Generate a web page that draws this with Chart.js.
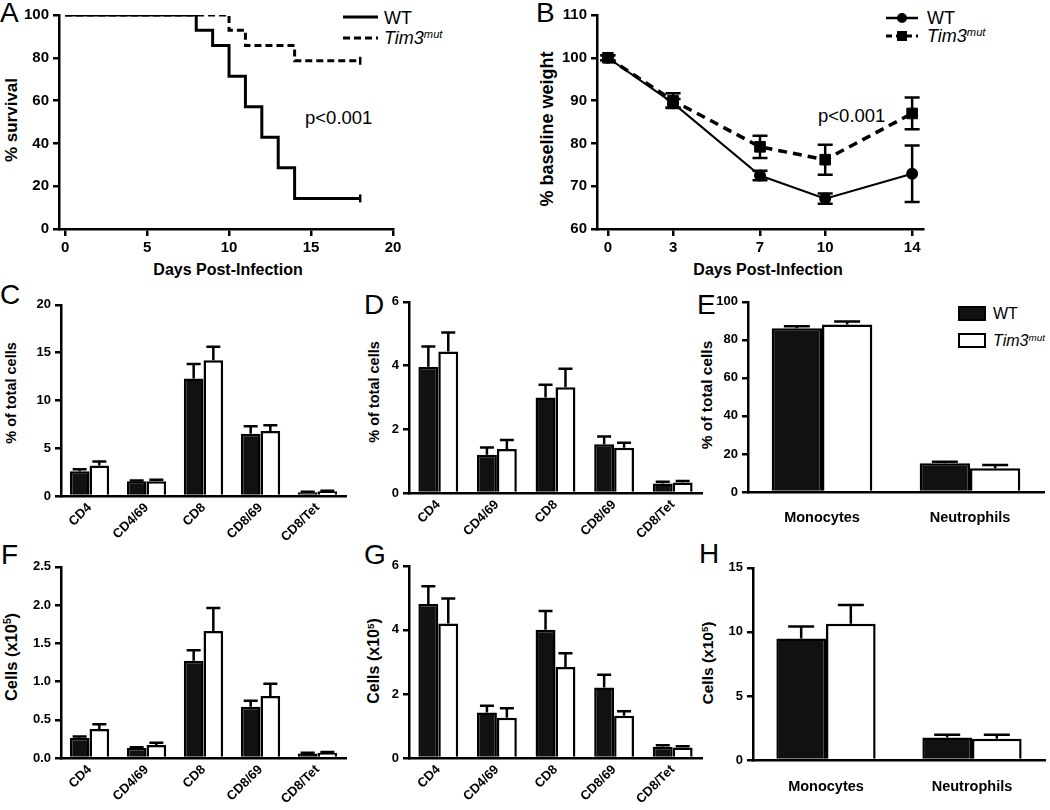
<!DOCTYPE html>
<html>
<head>
<meta charset="utf-8">
<script src="https://cdn.jsdelivr.net/npm/chart.js@4.4.1/dist/chart.umd.min.js"></script>
<style>
  html, body { margin: 0; padding: 0; background: #fff; }
  body { width: 1050px; height: 810px; position: relative; overflow: hidden; font-family: 'Liberation Sans', Arial, sans-serif; color: #000; }
  canvas { position: absolute; }
  .t { position: absolute; white-space: nowrap; line-height: 1; }
  .letter { font-size: 28px; }
  .yt { transform: translate(-50%, -50%) rotate(-90deg); font-weight: bold; }
  .xt { transform: translate(-50%, -50%); font-weight: bold; }
  .sup { font-size: 0.62em; position: relative; top: -0.55em; }
  .mid { transform: translateY(-50%); }
</style>
</head>
<body>

<!-- panel letters -->
<div class="t letter" style="left:0px;top:-1px">A</div>
<div class="t letter" style="left:536px;top:-1px">B</div>
<div class="t letter" style="left:0px;top:281px">C</div>
<div class="t letter" style="left:364px;top:291px">D</div>
<div class="t letter" style="left:697px;top:291px">E</div>
<div class="t letter" style="left:1px;top:541px">F</div>
<div class="t letter" style="left:364px;top:541px">G</div>
<div class="t letter" style="left:699px;top:540px">H</div>

<!-- axis titles -->
<div class="t yt" style="left:11px;top:120px;font-size:17px">% survival</div>
<div class="t xt" style="left:228px;top:270px;font-size:16px">Days Post-Infection</div>
<div class="t yt" style="left:547px;top:129px;font-size:18px">% baseline weight</div>
<div class="t xt" style="left:768px;top:270px;font-size:16px">Days Post-Infection</div>
<div class="t yt" style="left:11px;top:393px;font-size:14.5px">% of total cells</div>
<div class="t yt" style="left:374px;top:392px;font-size:14.5px">% of total cells</div>
<div class="t yt" style="left:707px;top:395px;font-size:15.5px">% of total cells</div>
<div class="t yt" style="left:11px;top:657px;font-size:16.5px">Cells (x10<span class="sup">5</span>)</div>
<div class="t yt" style="left:374px;top:661px;font-size:16px">Cells (x10<span class="sup">5</span>)</div>
<div class="t yt" style="left:708px;top:663px;font-size:15.5px">Cells (x10<span class="sup">5</span>)</div>

<!-- p values -->
<div class="t mid" style="left:305px;top:118px;font-size:18.5px">p&lt;0.001</div>
<div class="t mid" style="left:818px;top:116px;font-size:18.5px">p&lt;0.001</div>

<!-- legend A -->
<svg style="position:absolute;left:343px;top:10px" width="36" height="14"><line x1="0" y1="7" x2="35" y2="7" stroke="#000" stroke-width="3"/></svg>
<svg style="position:absolute;left:343px;top:31px" width="36" height="14"><line x1="0" y1="7" x2="35" y2="7" stroke="#000" stroke-width="3" stroke-dasharray="7,4"/></svg>
<div class="t mid" style="left:384px;top:18px;font-size:18px">WT</div>
<div class="t mid" style="left:384px;top:38px;font-size:18px"><i>Tim3</i><i class="sup">mut</i></div>

<!-- legend B -->
<svg style="position:absolute;left:886px;top:9px" width="34" height="18"><line x1="0" y1="9" x2="32" y2="9" stroke="#000" stroke-width="2.5"/><circle cx="16" cy="9" r="5" fill="#000"/></svg>
<svg style="position:absolute;left:886px;top:27px" width="34" height="18"><line x1="0" y1="9" x2="32" y2="9" stroke="#000" stroke-width="3" stroke-dasharray="6,4"/><rect x="11" y="4" width="10" height="10" fill="#000"/></svg>
<div class="t mid" style="left:927px;top:18px;font-size:18px">WT</div>
<div class="t mid" style="left:927px;top:36px;font-size:18px"><i>Tim3</i><i class="sup">mut</i></div>

<!-- legend E -->
<div style="position:absolute;left:958px;top:306px;width:24px;height:11px;background:#111;border:2px solid #000"></div>
<div style="position:absolute;left:958px;top:333px;width:24px;height:11px;background:#fff;border:2px solid #000"></div>
<div class="t mid" style="left:993px;top:314px;font-size:16px">WT</div>
<div class="t mid" style="left:993px;top:341px;font-size:16px"><i>Tim3</i><i class="sup">mut</i></div>

<script>
// ---- data ----
// A: Kaplan-Meier survival
const survDaysWT = [0, 8, 9, 10, 11, 12, 13, 14, 18];
const survWT     = [100, 92.9, 85.7, 71.4, 57.1, 42.9, 28.6, 14.3, 14.3];
const survDaysMut = [0, 10, 11, 14, 18];
const survMut     = [100, 92.9, 85.7, 78.6, 78.6];
const survTicks = [0, 5, 10, 15, 20];

// B: weight
const weightDays   = [0, 3, 7, 10, 14];
const weightWT     = [100, 89.4, 72.5, 67.1, 72.9];
const weightWTErr  = [0.6, 1.0, 1.1, 1.2, 6.6];
const weightMut    = [100, 90.0, 79.2, 76.2, 87.0];
const weightMutErr = [0.6, 1.7, 2.6, 3.5, 3.7];

const tcellCats   = ["CD4", "CD4/69", "CD8", "CD8/69", "CD8/Tet"];
const myeloidCats = ["Monocytes", "Neutrophils"];

// C: % of total cells
const pctC_WT     = [2.6, 1.55, 12.3, 6.5, 0.4];
const pctC_WTErr  = [0.2, 0.07, 1.5, 0.8, 0.05];
const pctC_Mut    = [3.2, 1.55, 14.2, 6.8, 0.5];
const pctC_MutErr = [0.4, 0.15, 1.4, 0.6, 0.05];

// D: % of total cells
const pctD_WT     = [3.96, 1.2, 3.0, 1.53, 0.3];
const pctD_WTErr  = [0.64, 0.23, 0.4, 0.24, 0.05];
const pctD_Mut    = [4.44, 1.38, 3.32, 1.42, 0.33];
const pctD_MutErr = [0.6, 0.28, 0.58, 0.16, 0.05];

// E: % of total cells (myeloid)
const pctE_WT     = [86.1, 15.1];
const pctE_WTErr  = [1.1, 0.8];
const pctE_Mut    = [88.0, 12.5];
const pctE_MutErr = [1.6, 1.7];

// F: cells x10^5
const cellsF_WT     = [0.26, 0.13, 1.27, 0.67, 0.06];
const cellsF_WTErr  = [0.02, 0.01, 0.14, 0.08, 0.01];
const cellsF_Mut    = [0.38, 0.17, 1.66, 0.81, 0.07];
const cellsF_MutErr = [0.06, 0.03, 0.30, 0.16, 0.01];

// G: cells x10^5
const cellsG_WT     = [4.81, 1.42, 4.0, 2.2, 0.35];
const cellsG_WTErr  = [0.55, 0.21, 0.59, 0.4, 0.05];
const cellsG_Mut    = [4.2, 1.26, 2.84, 1.32, 0.33];
const cellsG_MutErr = [0.78, 0.29, 0.43, 0.14, 0.04];

// H: cells x10^5 (myeloid)
const cellsH_WT     = [9.48, 1.75];
const cellsH_WTErr  = [0.93, 0.23];
const cellsH_Mut    = [10.64, 1.65];
const cellsH_MutErr = [1.45, 0.33];

// ---- chart setup ----
Chart.defaults.font.family = "'Liberation Sans', Arial, sans-serif";
Chart.defaults.color = "#000";
Chart.defaults.animation = false;

const Y_W = 52, PAD_T = 10;

// error bars (mean + SEM), up-only for bars, both ways for the weight curves
const errorBars = {
  id: "errorBars",
  afterDatasetsDraw(chart, args, opts){
    const ctx = chart.ctx;
    const ys = chart.scales.y;
    chart.data.datasets.forEach((ds, i) => {
      if (!ds.errors) return;
      const meta = chart.getDatasetMeta(i);
      ctx.save();
      ctx.strokeStyle = "#000";
      ctx.lineWidth = opts.lineWidth || 2.5;
      ctx.setLineDash([]);
      meta.data.forEach((el, j) => {
        const raw = ds.data[j];
        const v = (typeof raw === "object") ? raw.y : raw;
        const e = ds.errors[j];
        const hi = ys.getPixelForValue(v + e);
        const lo = opts.both ? ys.getPixelForValue(v - e) : el.y;
        const h = opts.cap / 2;
        ctx.beginPath();
        ctx.moveTo(el.x, lo); ctx.lineTo(el.x, hi);
        ctx.moveTo(el.x - h, hi); ctx.lineTo(el.x + h, hi);
        if (opts.both){ ctx.moveTo(el.x - h, lo); ctx.lineTo(el.x + h, lo); }
        ctx.stroke();
      });
      ctx.restore();
    });
  }
};

function makeCanvas(area, xh, padR){
  const c = document.createElement("canvas");
  const w = Y_W + (area.x1 - area.x0) + padR;
  const h = PAD_T + (area.y1 - area.y0) + xh;
  c.width = w; c.height = h;
  c.style.left = (area.x0 - Y_W) + "px";
  c.style.top = (area.y0 - PAD_T) + "px";
  c.style.width = w + "px"; c.style.height = h + "px";
  document.body.appendChild(c);
  return c;
}

function yAxis(min, max, step, size, fmt){
  return {
    min, max,
    ticks: { stepSize: step, font: { size, weight: "bold" }, color: "#000", padding: 4,
             callback: fmt || (v => v) },
    grid: { display: true, drawOnChartArea: false, drawTicks: true, tickLength: 6, color: "#000", lineWidth: 2.5 },
    border: { display: true, color: "#000", width: 2.5 },
    afterFit: s => { s.width = Y_W; }
  };
}

function catAxis(size, rot, pad, xh){
  return {
    type: "category", offset: true,
    ticks: { font: { size, weight: "bold" }, color: "#000", minRotation: rot, maxRotation: rot, autoSkip: false, padding: pad },
    grid: { display: false },
    border: { display: true, color: "#000", width: 2.5 },
    afterFit: s => { s.height = xh; }
  };
}

function baseOptions(padR){
  return {
    responsive: false, animation: false, devicePixelRatio: 1,
    layout: { padding: { top: PAD_T, right: padR, bottom: 0, left: 0 } },
    plugins: { legend: { display: false }, tooltip: { enabled: false } }
  };
}

function barPanel(area, xh, padR, cats, wt, wtErr, mut, mutErr, yCfg, xCfg, cap, catPct){
  const c = makeCanvas(area, xh, padR);
  const opts = baseOptions(padR);
  opts.scales = { x: xCfg, y: yCfg };
  opts.plugins.errorBars = { cap, lineWidth: 2.5, both: false };
  new Chart(c, {
    type: "bar",
    data: {
      labels: cats,
      datasets: [
        { label: "WT", data: wt, errors: wtErr, backgroundColor: "#111", borderColor: "#000", borderWidth: 2.5,
          categoryPercentage: catPct, barPercentage: 1 },
        { label: "Tim3mut", data: mut, errors: mutErr, backgroundColor: "#fff", borderColor: "#000", borderWidth: 2.5,
          categoryPercentage: catPct, barPercentage: 1 }
      ]
    },
    options: opts,
    plugins: [errorBars]
  });
}

// ---- A: survival ----
(function(){
  const area = { x0: 59, x1: 393, y0: 12, y1: 229 };
  const padR = 14, xh = 35;
  const c = makeCanvas(area, xh, padR);
  const opts = baseOptions(padR);
  const lastOnly = n => Array.from({ length: n }, (_, i) => i === n - 1 ? 4 : 0);
  opts.scales = {
    x: {
      type: "linear", bounds: "data", min: -0.37, max: 20,
      afterBuildTicks: s => { s.ticks = survTicks.map(v => ({ value: v })); },
      ticks: { font: { size: 15, weight: "bold" }, color: "#000", padding: 3 },
      grid: { display: true, drawOnChartArea: false, drawTicks: true, tickLength: 7, color: "#000", lineWidth: 2.5 },
      border: { display: true, color: "#000", width: 2.5 },
      afterFit: s => { s.height = xh; }
    },
    y: yAxis(0, 100, 20, 15)
  };
  new Chart(c, {
    type: "line",
    data: {
      datasets: [
        { label: "WT", data: survDaysWT.map((d, i) => ({ x: d, y: survWT[i] })), stepped: true,
          borderColor: "#000", borderWidth: 3, pointStyle: "line", rotation: 90,
          pointRadius: lastOnly(survDaysWT.length), pointBorderWidth: 2.5, pointBorderColor: "#000" },
        { label: "Tim3mut", data: survDaysMut.map((d, i) => ({ x: d, y: survMut[i] })), stepped: true,
          borderColor: "#000", borderWidth: 3, borderDash: [7, 4], pointStyle: "line", rotation: 90,
          pointRadius: lastOnly(survDaysMut.length), pointBorderWidth: 2.5, pointBorderColor: "#000" }
      ]
    },
    options: opts
  });
})();

// ---- B: weight ----
(function(){
  const area = { x0: 597, x1: 923, y0: 12, y1: 229 };
  const padR = 14, xh = 35;
  const c = makeCanvas(area, xh, padR);
  const opts = baseOptions(padR);
  opts.scales = {
    x: {
      type: "linear", bounds: "data", min: -0.5, max: 14.5,
      afterBuildTicks: s => { s.ticks = weightDays.map(v => ({ value: v })); },
      ticks: { font: { size: 15, weight: "bold" }, color: "#000", padding: 3 },
      grid: { display: true, drawOnChartArea: false, drawTicks: true, tickLength: 7, color: "#000", lineWidth: 2.5 },
      border: { display: true, color: "#000", width: 2.5 },
      afterFit: s => { s.height = xh; }
    },
    y: yAxis(60, 110, 10, 15)
  };
  opts.plugins.errorBars = { cap: 15, lineWidth: 2.5, both: true };
  new Chart(c, {
    type: "line",
    data: {
      datasets: [
        { label: "WT", data: weightDays.map((d, i) => ({ x: d, y: weightWT[i] })), errors: weightWTErr,
          borderColor: "#000", borderWidth: 2, pointStyle: "circle", pointRadius: 5,
          pointBackgroundColor: "#000", pointBorderColor: "#000" },
        { label: "Tim3mut", data: weightDays.map((d, i) => ({ x: d, y: weightMut[i] })), errors: weightMutErr,
          borderColor: "#000", borderWidth: 3.5, borderDash: [9, 6], pointStyle: "rect", pointRadius: 7.5,
          pointBackgroundColor: "#000", pointBorderColor: "#000", pointBorderWidth: 1 }
      ]
    },
    options: opts,
    plugins: [errorBars]
  });
})();

// ---- C-H: bar panels ----
barPanel({ x0: 61, x1: 346, y0: 303, y1: 496 }, 50, 10, tcellCats,
  pctC_WT, pctC_WTErr, pctC_Mut, pctC_MutErr,
  yAxis(0, 20, 5, 13), catAxis(13, 45, -4, 50), 14, 0.69);

barPanel({ x0: 409, x1: 702, y0: 300, y1: 493 }, 50, 10, tcellCats,
  pctD_WT, pctD_WTErr, pctD_Mut, pctD_MutErr,
  yAxis(0, 6, 2, 13), catAxis(13, 45, -4, 50), 14, 0.68);

barPanel({ x0: 748, x1: 1044, y0: 300, y1: 492 }, 40, 4, myeloidCats,
  pctE_WT, pctE_WTErr, pctE_Mut, pctE_MutErr,
  yAxis(0, 100, 20, 13), catAxis(14.5, 0, 9, 40), 26, 0.68);

barPanel({ x0: 61, x1: 346, y0: 565, y1: 758 }, 48, 10, tcellCats,
  cellsF_WT, cellsF_WTErr, cellsF_Mut, cellsF_MutErr,
  yAxis(0, 2.5, 0.5, 13, v => v.toFixed(1)), catAxis(13, 45, -4, 48), 14, 0.69);

barPanel({ x0: 409, x1: 702, y0: 564, y1: 758 }, 48, 10, tcellCats,
  cellsG_WT, cellsG_WTErr, cellsG_Mut, cellsG_MutErr,
  yAxis(0, 6, 2, 13), catAxis(13, 45, -4, 48), 14, 0.68);

barPanel({ x0: 753, x1: 1045, y0: 566, y1: 760 }, 40, 4, myeloidCats,
  cellsH_WT, cellsH_WTErr, cellsH_Mut, cellsH_MutErr,
  yAxis(0, 15, 5, 13), catAxis(14.5, 0, 10, 40), 26, 0.68);
</script>
</body>
</html>
